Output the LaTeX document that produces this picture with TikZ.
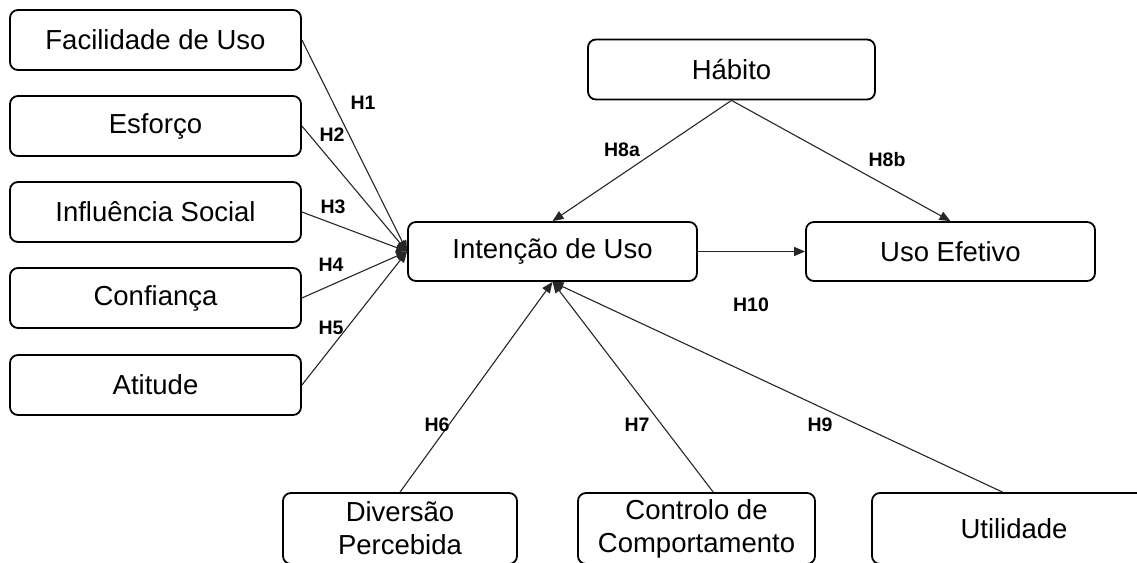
\documentclass[tikz,border=0pt]{standalone}
\usepackage{fontspec}
\setmainfont{Liberation Sans}
\usetikzlibrary{arrows.meta,calc}
\begin{document}
\begin{tikzpicture}[x=1pt,y=-1pt,
  box/.style={draw=black,line width=1.8pt,rounded corners=8pt,fill=white,
    inner sep=0pt,align=center,font=\fontsize{27.5}{33}\selectfont},
  wbox/.style={box,minimum width=291pt,minimum height=60pt},
  lowbox/.style={box,minimum height=71pt},
  link/.style={draw=black!85,line width=1.1pt,-{Triangle[length=11pt,width=9pt]}},
  hyp/.style={font=\fontsize{19.5}{22}\selectfont\bfseries,inner sep=0pt}]
\useasboundingbox (0,0) rectangle (1137,562);

% antecedent constructs on the left
\node[wbox] (fac) at (155.5,40)  {Facilidade de Uso};
\node[wbox] (esf) at (155.5,126) {Esforço};
\node[wbox] (inf) at (155.5,212) {Influência Social};
\node[wbox] (con) at (155.5,298) {Confiança};
\node[wbox] (ati) at (155.5,385) {Atitude};

% central constructs
\node[box,minimum width=289pt,minimum height=59pt] (int) at (552.5,251.5) {Intenção de Uso};
\node[box,minimum width=289pt,minimum height=59pt] (uso) at (950.5,251.5) {Uso Efetivo};
\node[box,minimum width=287pt,minimum height=60pt] (hab) at (731.5,69.5)  {Hábito};

% constructs along the bottom
\node[lowbox,minimum width=234pt] (div) at (400,528.5)  {Diversão\\Percebida};
\node[lowbox,minimum width=237pt] (ctl) at (696.5,528.5) {Controlo de\\Comportamento};
\node[lowbox,minimum width=284pt] (uti) at (1014,528.5)  {Utilidade};

% start points on the bottom boxes
\coordinate (ctlTop) at ($(ctl.north west)!0.57!(ctl.north east)$);
\coordinate (utiTop) at ($(uti.north west)!0.46!(uti.north east)$);

% hypothesised paths
\draw[link] (fac.east) -- (int.west);
\draw[link] (esf.east) -- (int.west);
\draw[link] (inf.east) -- (int.west);
\draw[link] (con.east) -- (int.west);
\draw[link] (ati.east) -- (int.west);
\draw[link] (div.north) -- (int.south);
\draw[link] (ctlTop) -- (int.south);
\draw[link] (utiTop) -- (int.south);
\draw[link] (hab.south) -- (int.north);
\draw[link] (hab.south) -- (uso.north);
\draw[link] (int.east) -- (uso.west);

% path labels
\node[hyp] (h1)  at (363,103) {H1};
\node[hyp] (h2)  at (332,135) {H2};
\node[hyp] (h3)  at (333,207) {H3};
\node[hyp] (h4)  at (331,265) {H4};
\node[hyp] (h5)  at (331,328) {H5};
\node[hyp] (h6)  at (437,425) {H6};
\node[hyp] (h7)  at (637,425) {H7};
\node[hyp] (h8a) at (622,150) {H8a};
\node[hyp] (h8b) at (887,160) {H8b};
\node[hyp] (h9)  at (820,425) {H9};
\node[hyp] (h10) at (751,305) {H10};
\end{tikzpicture}
\end{document}
